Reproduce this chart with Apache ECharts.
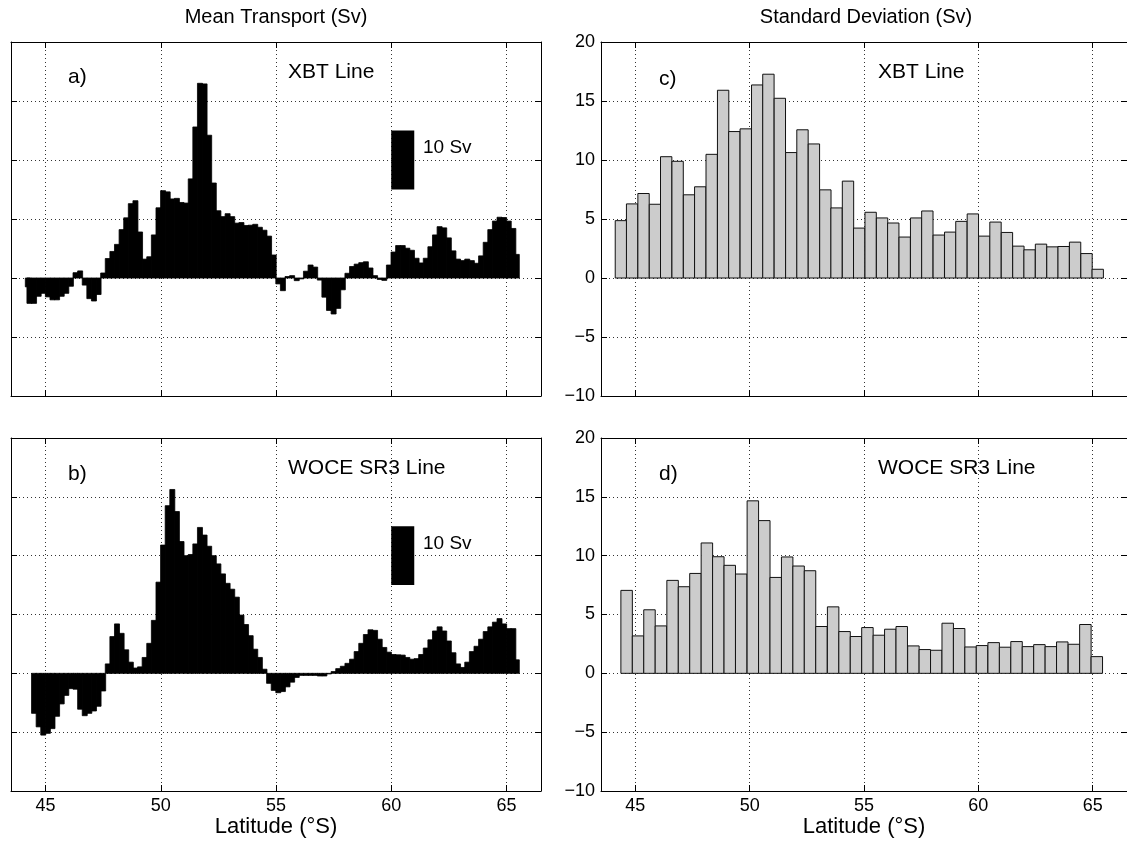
<!DOCTYPE html>
<html><head><meta charset="utf-8">
<script src="https://cdn.jsdelivr.net/npm/echarts@6/dist/echarts.min.js"></script>
<style>html,body{margin:0;padding:0;background:#fff}#c{width:1127px;height:843px}</style>
</head><body><div id="c"></div>
<script>
// ---------------- DATA ----------------
// Mean transport, XBT line (Sv per 0.2 deg latitude bin); bin centres in deg S
const xbtLat = [
 44.23, 44.3, 44.5, 44.7, 44.9, 45.1, 45.3, 45.5, 45.7, 45.9,
 46.1, 46.3, 46.5, 46.7, 46.9, 47.1, 47.3, 47.5, 47.7, 47.9,
 48.1, 48.3, 48.5, 48.7, 48.9, 49.1, 49.3, 49.5, 49.7, 49.9,
 50.1, 50.3, 50.5, 50.7, 50.9, 51.1, 51.3, 51.5, 51.7, 51.9,
 52.1, 52.3, 52.5, 52.7, 52.9, 53.1, 53.3, 53.5, 53.7, 53.9,
 54.1, 54.3, 54.5, 54.7, 54.9, 55.1, 55.3, 55.5, 55.7, 55.9,
 56.1, 56.3, 56.5, 56.7, 56.9, 57.1, 57.3, 57.5, 57.7, 57.9,
 58.1, 58.3, 58.5, 58.7, 58.9, 59.1, 59.3, 59.5, 59.7, 59.9,
 60.1, 60.3, 60.5, 60.7, 60.9, 61.1, 61.3, 61.5, 61.7, 61.9,
 62.1, 62.3, 62.5, 62.7, 62.9, 63.1, 63.3, 63.5, 63.7, 63.9,
 64.1, 64.3, 64.5, 64.7, 64.9, 65.1, 65.3, 65.45
];
const xbtMean = [
 -1.5, -4.3, -4.3, -3.1, -2.6, -3.2, -3.7, -3.7, -3.1, -2.6,
 -1.4, 0.9, 1.2, -1.2, -3.5, -3.9, -2.8, 0.85, 3.3, 4.5,
 5.7, 8.2, 10.2, 12.6, 13.1, 7.8, 3.2, 3.6, 7.3, 11.9,
 14.8, 14.6, 13.4, 13.5, 12.8, 12.7, 16.8, 25.6, 33.0, 32.9,
 24.2, 16.1, 11.4, 10.4, 10.9, 10.4, 9.3, 9.4, 8.9, 8.95,
 9.1, 8.6, 8.1, 7.1, 3.9, -1.0, -2.15, 0.25, 0.4, -0.45,
 -0.15, 1.15, 2.2, 1.85, -0.35, -3.25, -5.5, -6.1, -5.15, -2.0,
 0.8, 1.95, 2.35, 2.6, 2.75, 1.7, 0.4, -0.25, -0.4, 2.2,
 4.4, 5.5, 5.5, 5.05, 4.7, 3.35, 2.55, 3.35, 5.3, 7.3,
 8.7, 8.5, 6.8, 4.6, 3.2, 2.95, 3.2, 2.95, 2.5, 3.75,
 6.05, 8.2, 9.65, 10.3, 10.25, 9.65, 8.4, 4.0
];
// Mean transport, WOCE SR3 line
const woceLat = [
 44.5, 44.7, 44.9, 45.1, 45.3, 45.5, 45.7, 45.9, 46.1, 46.3,
 46.5, 46.7, 46.9, 47.1, 47.3, 47.5, 47.7, 47.9, 48.1, 48.3,
 48.5, 48.7, 48.9, 49.1, 49.3, 49.5, 49.7, 49.9, 50.1, 50.3,
 50.5, 50.7, 50.9, 51.1, 51.3, 51.5, 51.7, 51.9, 52.1, 52.3,
 52.5, 52.7, 52.9, 53.1, 53.3, 53.5, 53.7, 53.9, 54.1, 54.3,
 54.5, 54.7, 54.9, 55.1, 55.3, 55.5, 55.7, 55.9, 56.1, 56.3,
 56.5, 56.7, 56.9, 57.1, 57.3, 57.5, 57.7, 57.9, 58.1, 58.3,
 58.5, 58.7, 58.9, 59.1, 59.3, 59.5, 59.7, 59.9, 60.1, 60.3,
 60.5, 60.7, 60.9, 61.1, 61.3, 61.5, 61.7, 61.9, 62.1, 62.3,
 62.5, 62.7, 62.9, 63.1, 63.3, 63.5, 63.7, 63.9, 64.1, 64.3,
 64.5, 64.7, 64.9, 65.1, 65.3, 65.45
];
const woceMean = [
 -6.8, -9.1, -10.5, -10.2, -9.4, -7.3, -5.2, -3.75, -2.6, -2.7,
 -6.1, -7.2, -6.8, -6.4, -5.6, -3.0, 1.6, 6.25, 8.4, 6.8,
 4.0, 1.9, 0.9, 1.1, 2.7, 5.1, 9.0, 15.5, 21.8, 28.5,
 31.25, 27.5, 22.4, 20.0, 20.2, 22.0, 24.8, 23.5, 21.6, 20.0,
 18.6, 16.9, 15.3, 14.3, 12.95, 9.9, 8.3, 6.4, 4.1, 2.7,
 0.7, -1.7, -2.9, -3.3, -3.1, -2.3, -1.5, -0.7, -0.35, -0.35,
 -0.35, -0.35, -0.45, -0.45, -0.1, 0.3, 0.8, 1.2, 1.7, 2.4,
 3.7, 5.1, 6.6, 7.4, 7.3, 5.8, 4.4, 3.6, 3.2, 3.15,
 3.1, 2.7, 2.4, 2.5, 3.2, 4.3, 5.7, 7.2, 7.9, 7.2,
 5.5, 3.5, 1.6, 1.0, 1.9, 3.7, 4.6, 5.8, 7.1, 7.9,
 8.7, 9.3, 8.4, 7.6, 7.6, 2.3
];
const transportBinWidth = 0.2;

// Standard deviation, XBT line (Sv)
const sdXbtLat = [
 44.37, 44.86, 45.36, 45.86, 46.35, 46.85, 47.35, 47.84, 48.34, 48.84,
 49.33, 49.83, 50.33, 50.82, 51.32, 51.82, 52.31, 52.81, 53.31, 53.80,
 54.30, 54.79, 55.29, 55.79, 56.28, 56.78, 57.28, 57.77, 58.27, 58.77,
 59.26, 59.76, 60.26, 60.75, 61.25, 61.75, 62.24, 62.74, 63.24, 63.73,
 64.23, 64.73, 65.22
];
const sdXbt = [
 4.86, 6.28, 7.16, 6.25, 10.28, 9.89, 7.05, 7.73, 10.48, 15.91,
 12.41, 12.64, 16.36, 17.27, 15.23, 10.63, 12.56, 11.36, 7.47, 5.94,
 8.21, 4.23, 5.57, 5.09, 4.66, 3.47, 5.09, 5.68, 3.64, 3.89,
 4.80, 5.43, 3.55, 4.74, 3.86, 2.70, 2.39, 2.87, 2.64, 2.67,
 3.04, 2.07, 0.74
];
const sdXbtBinWidth = 0.4965;

// Standard deviation, WOCE SR3 line (Sv)
const sdWoceLat = [
 44.62, 45.12, 45.62, 46.12, 46.63, 47.13, 47.63, 48.13, 48.63, 49.13,
 49.63, 50.14, 50.64, 51.14, 51.64, 52.14, 52.64, 53.14, 53.65, 54.15,
 54.65, 55.15, 55.65, 56.15, 56.65, 57.16, 57.66, 58.16, 58.66, 59.16,
 59.66, 60.16, 60.67, 61.17, 61.67, 62.17, 62.67, 63.17, 63.67, 64.18,
 64.68, 65.18
];
const sdWoce = [
 7.05, 3.18, 5.40, 4.03, 7.90, 7.36, 8.49, 11.08, 9.91, 9.18,
 8.44, 14.66, 12.98, 8.15, 9.89, 9.12, 8.72, 3.98, 5.65, 3.55,
 3.13, 3.89, 3.24, 3.75, 3.98, 2.33, 2.02, 1.96, 4.26, 3.81,
 2.24, 2.36, 2.61, 2.22, 2.70, 2.27, 2.44, 2.27, 2.67, 2.47,
 4.15, 1.42
];
const sdWoceBinWidth = 0.5014;

// 10 Sv scale bar (latitude extent, Sv extent)
const scaleBarLat = [60, 61];
const scaleBarSv = [15, 25];

// Axis ticks
const latTicks = [45, 50, 55, 60, 65];
const latRange = [43.5, 66.5];
const transportRange = [-20, 40, 10];
const sdRange = [-10, 20, 5];

// ---------------- CHART ----------------
const FONT = '"Liberation Sans", Arial, Helvetica, sans-serif';
const chart = echarts.init(document.getElementById('c'), null, {renderer: 'canvas'});

const grids = [
  {left: 11, top: 42, width: 530, height: 354},
  {left: 11, top: 438, width: 530, height: 353},
  {left: 601, top: 42, width: 531, height: 354},
  {left: 601, top: 438, width: 531, height: 353}
];
const isBottom = [false, true, false, true];
const isRight = [false, false, true, true];

const dotted = {type: [1, 3], color: '#333', width: 1};
const xAxes = [], yAxes = [];
grids.forEach((g, i) => {
  xAxes.push({
    type: 'value', gridIndex: i, min: latRange[0], max: latRange[1], position: 'bottom',
    axisLine: {show: true, onZero: false, lineStyle: {color: '#000', width: 1}},
    axisTick: {show: true, inside: true, length: 6, customValues: latTicks, lineStyle: {color: '#000'}},
    axisLabel: {show: isBottom[i], customValues: latTicks, fontSize: 18, color: '#000', fontFamily: FONT, margin: 6},
    splitLine: {show: true, lineStyle: dotted},
    name: isBottom[i] ? 'Latitude (°S)' : '', nameLocation: 'middle', nameGap: 22,
    nameTextStyle: {fontSize: 22, color: '#000', fontFamily: FONT}
  });
  xAxes.push({
    type: 'value', gridIndex: i, min: latRange[0], max: latRange[1], position: 'top',
    axisLine: {show: true, onZero: false, lineStyle: {color: '#000', width: 1}},
    axisTick: {show: true, inside: true, length: 6, customValues: latTicks, lineStyle: {color: '#000'}},
    axisLabel: {show: false}, splitLine: {show: false}
  });
  const r = isRight[i] ? sdRange : transportRange;
  yAxes.push({
    type: 'value', gridIndex: i, min: r[0], max: r[1], interval: r[2], position: 'left',
    axisLine: {show: true, onZero: false, lineStyle: {color: '#000', width: 1}},
    axisTick: {show: true, inside: true, length: 6, lineStyle: {color: '#000'}},
    axisLabel: {show: isRight[i], fontSize: 18, color: '#000', fontFamily: FONT, margin: 6,
      formatter: v => String(v).replace('-', '\u2212')},
    splitLine: {show: true, lineStyle: dotted}
  });
  yAxes.push({
    type: 'value', gridIndex: i, min: r[0], max: r[1], interval: r[2], position: 'right',
    axisLine: {show: true, onZero: false, lineStyle: {color: '#000', width: 1}},
    axisTick: {show: true, inside: true, length: 6, lineStyle: {color: '#000'}},
    axisLabel: {show: false}, splitLine: {show: false}
  });
});

function barRenderer(binWidth, fill, stroke, lw, pad) {
  return function (params, api) {
    const lat = api.value(0), v = api.value(1);
    const a = api.coord([lat - binWidth / 2, 0]);
    const b = api.coord([lat + binWidth / 2, v]);
    const x = Math.min(a[0], b[0]) - pad, w = Math.abs(b[0] - a[0]) + 2 * pad;
    const y = Math.min(a[1], b[1]), h = Math.abs(b[1] - a[1]);
    return {type: 'rect', shape: {x: x, y: y, width: w, height: h},
      style: {fill: fill, stroke: stroke, lineWidth: lw}};
  };
}
function pairs(lats, vals) { return lats.map((l, k) => [l, vals[k]]); }

function scaleBarRenderer(params, api) {
  const a = api.coord([api.value(0), api.value(2)]);
  const b = api.coord([api.value(1), api.value(3)]);
  return {type: 'rect', shape: {x: a[0], y: b[1], width: b[0] - a[0], height: a[1] - b[1]},
    style: {fill: '#000'}};
}

const series = [
  {type: 'custom', xAxisIndex: 0, yAxisIndex: 0, clip: true,
   renderItem: barRenderer(transportBinWidth, '#000', '#000', 0.8, 0.2), data: pairs(xbtLat, xbtMean)},
  {type: 'custom', xAxisIndex: 2, yAxisIndex: 2, clip: true,
   renderItem: barRenderer(transportBinWidth, '#000', '#000', 0.8, 0.2), data: pairs(woceLat, woceMean)},
  {type: 'custom', xAxisIndex: 4, yAxisIndex: 4, clip: true,
   renderItem: barRenderer(sdXbtBinWidth, '#cccccc', '#111', 1, 0), data: pairs(sdXbtLat, sdXbt)},
  {type: 'custom', xAxisIndex: 6, yAxisIndex: 6, clip: true,
   renderItem: barRenderer(sdWoceBinWidth, '#cccccc', '#111', 1, 0), data: pairs(sdWoceLat, sdWoce)},
  {type: 'custom', xAxisIndex: 0, yAxisIndex: 0, renderItem: scaleBarRenderer,
   data: [[scaleBarLat[0], scaleBarLat[1], scaleBarSv[0], scaleBarSv[1]]]},
  {type: 'custom', xAxisIndex: 2, yAxisIndex: 2, renderItem: scaleBarRenderer,
   data: [[scaleBarLat[0], scaleBarLat[1], scaleBarSv[0], scaleBarSv[1]]]}
];

function txt(text, x, y, size, align) {
  return {type: 'text', x: x, y: y, silent: true,
    style: {text: text, fontSize: size, fontFamily: FONT, fill: '#000',
      textAlign: align || 'left', textVerticalAlign: 'middle'}};
}

const graphic = [
  txt('Mean Transport (Sv)', 276, 17, 20, 'center'),
  txt('Standard Deviation (Sv)', 866, 17, 20, 'center'),
  txt('a)', 68, 77, 21), txt('XBT Line', 288, 72, 21), txt('10 Sv', 423, 148, 19),
  txt('b)', 68, 474, 21), txt('WOCE SR3 Line', 288, 468, 21), txt('10 Sv', 423, 544, 19),
  txt('c)', 659, 79, 21), txt('XBT Line', 878, 72, 21),
  txt('d)', 659, 474, 21), txt('WOCE SR3 Line', 878, 468, 21)
];

chart.setOption({
  animation: false,
  backgroundColor: '#fff',
  grid: grids,
  xAxis: xAxes,
  yAxis: yAxes,
  series: series,
  graphic: graphic
});
</script>
</body></html>
